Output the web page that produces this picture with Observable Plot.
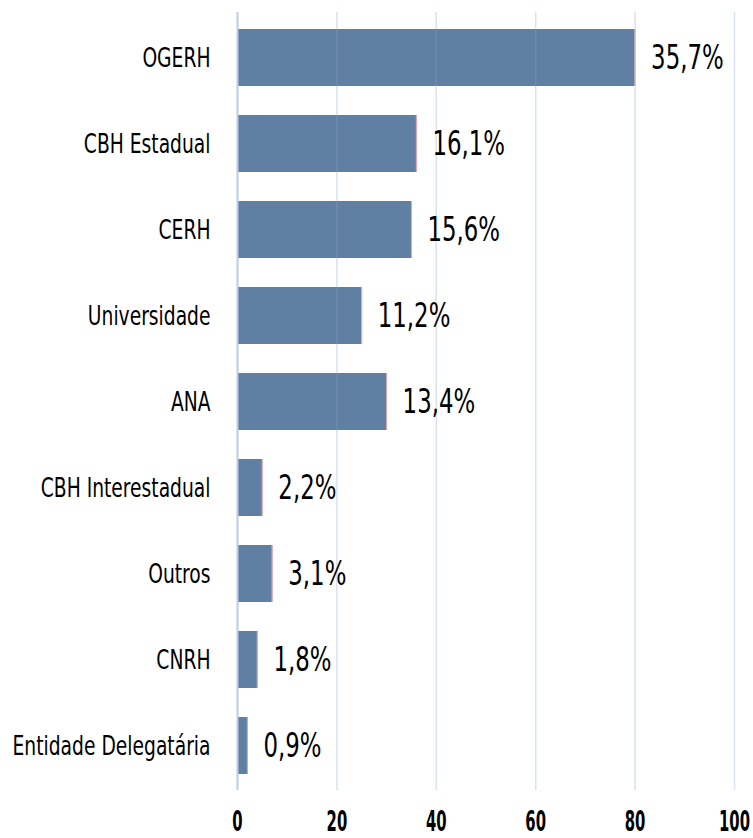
<!DOCTYPE html>
<html>
<head>
<meta charset="utf-8">
<script src="https://cdn.jsdelivr.net/npm/d3@7"></script>
<script src="https://cdn.jsdelivr.net/npm/@observablehq/plot@0.6"></script>
<style>
  html, body { margin: 0; padding: 0; background: #fff; }
  #chart svg { display: block; }
</style>
</head>
<body>
<div id="chart"></div>
<script>
const categories = ["OGERH", "CBH Estadual", "CERH", "Universidade", "ANA", "CBH Interestadual", "Outros", "CNRH", "Entidade Delegatária"];
const values = [80, 36, 35, 25, 30, 5, 7, 4, 2];
const valueLabels = ["35,7%", "16,1%", "15,6%", "11,2%", "13,4%", "2,2%", "3,1%", "1,8%", "0,9%"];
const xTicks = [0, 20, 40, 60, 80, 100];

const data = categories.map((c, i) => ({category: c, value: values[i], label: valueLabels[i]}));
const font = "'DejaVu Sans Condensed', 'DejaVu Sans', sans-serif";

const chart = Plot.plot({
  width: 753,
  height: 838,
  marginLeft: 237,
  marginRight: 19,
  marginTop: 12,
  marginBottom: 48,
  style: {fontFamily: font, background: "#fff", overflow: "visible"},
  x: {domain: [0, 100], ticks: xTicks},
  y: {domain: categories, paddingInner: 0.34, paddingOuter: 0.17},
  marks: [
    Plot.gridX(xTicks.filter(d => d > 0), {stroke: "#d9e4f2", strokeOpacity: 1, strokeWidth: 1.5}),
    Plot.barX(data, {x: "value", y: "category", fill: "#5f7fa3"}),
    Plot.tickX(data, {x: "value", y: "category", stroke: "#e39a9a", strokeWidth: 1}),
    Plot.gridX(xTicks.filter(d => d > 0 && d < 100), {stroke: "#d9e4f2", strokeOpacity: 0.12, strokeWidth: 1.5}),
    Plot.ruleX([0], {stroke: "#b9cde6", strokeWidth: 2}),
    Plot.text(data, {x: "value", y: "category", text: "label", textAnchor: "start", dx: 16, fontSize: 33, fill: "#000", fontFamily: font}),
    Plot.axisY({tickSize: 0, tickPadding: 27, fontSize: 27, label: null, fill: "#000", fontFamily: font}),
    Plot.axisX({ticks: xTicks, tickSize: 0, tickPadding: 21, fontSize: 27.5, fontWeight: "bold", label: null, fill: "#000", fontFamily: font, tickFormat: d => String(d)})
  ]
});

document.getElementById("chart").appendChild(chart);

// Mimic the condensed typeface of the original by narrowing the glyphs
function condense(selector, s) {
  chart.querySelectorAll(selector).forEach(el => {
    const w = el.getComputedTextLength();
    if (w > 0) {
      el.setAttribute("textLength", (w * s).toFixed(2));
      el.setAttribute("lengthAdjust", "spacingAndGlyphs");
    }
  });
}
condense("g[aria-label='y-axis tick label'] text", 0.77);
condense("g[aria-label='x-axis tick label'] text", 0.6);
condense("g[aria-label='text'] text", 0.77);
</script>
</body>
</html>
